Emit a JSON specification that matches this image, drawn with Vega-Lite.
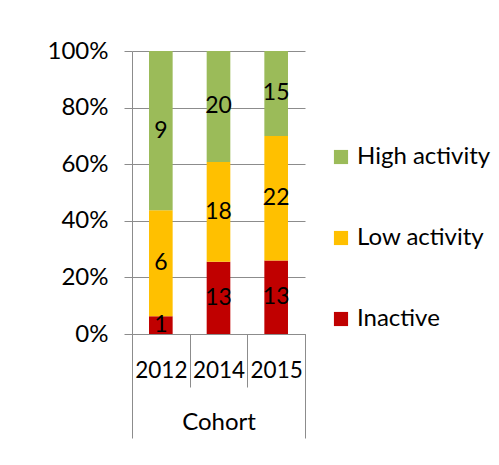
{
  "$schema": "https://vega.github.io/schema/vega-lite/v6.json",
  "autosize": {"type": "none"},
  "width": 173,
  "height": 283,
  "padding": {"left": 132, "top": 51, "right": 194, "bottom": 131},
  "background": "white",
  "config": {
    "view": {"stroke": null},
    "font": "Lato",
    "axis": {"labelFont": "Lato", "labelColor": "black", "domainColor": "#8c8c8c", "tickColor": "#8c8c8c", "gridColor": "#8c8c8c", "domainWidth": 1, "tickWidth": 1, "gridWidth": 1}
  },
  "data": {
    "values": [
      {"cohort": "2012", "activity": "Inactive", "level": 0, "count": 1},
      {"cohort": "2012", "activity": "Low activity", "level": 1, "count": 6},
      {"cohort": "2012", "activity": "High activity", "level": 2, "count": 9},
      {"cohort": "2014", "activity": "Inactive", "level": 0, "count": 13},
      {"cohort": "2014", "activity": "Low activity", "level": 1, "count": 18},
      {"cohort": "2014", "activity": "High activity", "level": 2, "count": 20},
      {"cohort": "2015", "activity": "Inactive", "level": 0, "count": 13},
      {"cohort": "2015", "activity": "Low activity", "level": 1, "count": 22},
      {"cohort": "2015", "activity": "High activity", "level": 2, "count": 15}
    ]
  },
  "layer": [
    {
      "transform": [
        {"stack": "count", "groupby": ["cohort"], "sort": [{"field": "level", "order": "ascending"}], "offset": "normalize", "as": ["y0", "y1"]},
        {"calculate": "(datum.y0 + datum.y1) / 2", "as": "ymid"}
      ],
      "encoding": {
        "x": {
          "field": "cohort", "type": "nominal",
          "scale": {"type": "band", "paddingInner": 0, "paddingOuter": 0},
          "axis": {"orient": "bottom", "title": null, "tickBand": "extent", "tickSize": 53, "labelPadding": -17, "labelBaseline": "middle", "labelAngle": 0, "labelFontSize": 22.5}
        }
      },
      "layer": [
        {
          "mark": {"type": "bar", "width": {"band": 0.41}},
          "encoding": {
            "y": {
              "field": "y0", "type": "quantitative",
              "scale": {"domain": [0, 1]},
              "axis": {"title": null, "format": ".0%", "values": [0, 0.2, 0.4, 0.6, 0.8, 1], "tickSize": 8, "labelPadding": 16, "labelFontSize": 24, "grid": true}
            },
            "y2": {"field": "y1"},
            "color": {
              "field": "activity", "type": "nominal",
              "scale": {"domain": ["High activity", "Low activity", "Inactive"], "range": ["#9BBB59", "#FFC000", "#C00000"]},
              "legend": {"title": null, "orient": "none", "legendX": 197, "legendY": 94, "symbolType": "square", "symbolSize": 200, "symbolStrokeWidth": 0, "labelFontSize": 24, "labelFont": "Lato", "labelColor": "black", "labelOffset": 4, "rowPadding": 57, "labelLimit": 300}
            }
          }
        },
        {
          "mark": {"type": "text", "fontSize": 23, "color": "black", "baseline": "middle"},
          "encoding": {
            "y": {"field": "ymid", "type": "quantitative"},
            "text": {"field": "count", "type": "quantitative"}
          }
        }
      ]
    },
    {
      "mark": {"type": "text", "text": ""},
      "encoding": {
        "x": {
          "datum": "Cohort", "type": "nominal",
          "scale": {"type": "band", "paddingInner": 0, "paddingOuter": 0},
          "axis": {"orient": "bottom", "title": null, "domain": false, "tickBand": "extent", "tickSize": 104, "labelPadding": -16, "labelBaseline": "middle", "labelAngle": 0, "labelFontSize": 24}
        }
      }
    }
  ],
  "resolve": {"scale": {"x": "independent"}, "axis": {"x": "independent"}}
}
